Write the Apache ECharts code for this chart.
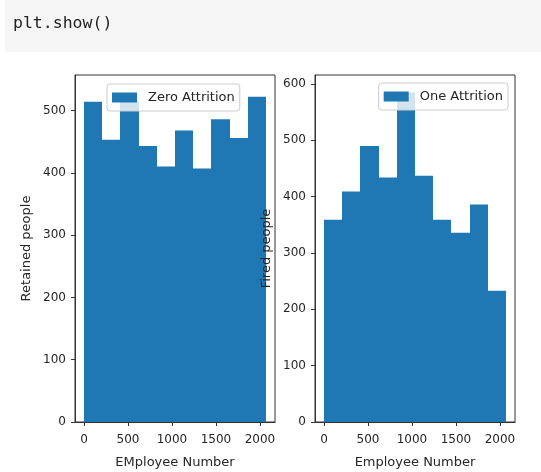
<!DOCTYPE html>
<html>
<head>
<meta charset="utf-8">
<script src="https://cdn.jsdelivr.net/npm/echarts@6/dist/echarts.min.js"></script>
<style>
html,body{margin:0;padding:0;background:#fff;}
#chart{width:541px;height:472px;}
</style>
</head>
<body>
<div id="chart"></div>
<script>
// Histogram bin edges (EmployeeNumber) and counts
const binEdges = [1, 207.7, 414.4, 621.1, 827.8, 1034.5, 1241.2, 1447.9, 1654.6, 1861.3, 2068];
const zeroCounts = [514, 453, 515, 443, 410, 468, 407, 486, 456, 522];
const oneCounts = [359, 409, 490, 434, 585, 437, 359, 336, 386, 233];
const xTicks = [0, 500, 1000, 1500, 2000];
const leftYTicks = [0, 100, 200, 300, 400, 500];
const rightYTicks = [0, 100, 200, 300, 400, 500, 600];
const seriesNames = ['Zero Attrition', 'One Attrition'];
const xTitles = ['EMployee Number', 'Employee Number'];
const yTitles = ['Retained people', 'Fired people'];

const BLUE = '#1f77b4';
const INK = '#262626';
const FONT = 'DejaVu Sans';

function histData(counts) {
  return counts.map((c, i) => [binEdges[i], binEdges[i + 1], c]);
}
function renderBar(params, api) {
  const p0 = api.coord([api.value(0), api.value(2)]);
  const p1 = api.coord([api.value(1), 0]);
  const x0 = Math.round(p0[0]), x1 = Math.round(p1[0]);
  return {
    type: 'rect',
    shape: { x: x0, y: p0[1], width: x1 - x0, height: p1[1] - p0[1] },
    style: { fill: BLUE }
  };
}

const xSpan = binEdges[binEdges.length - 1] - binEdges[0];
const xMin = binEdges[0] - 0.05 * xSpan;
const xMax = binEdges[binEdges.length - 1] + 0.05 * xSpan;
const plain = v => String(Math.round(v));

function xAxis(idx) {
  return {
    type: 'value', gridIndex: idx, min: xMin, max: xMax, z: 5,
    name: xTitles[idx], nameLocation: 'middle', nameGap: 34,
    nameTextStyle: { color: INK, fontFamily: FONT, fontSize: 13 },
    axisLine: { show: true, onZero: false, lineStyle: { color: '#333', width: 1 } },
    axisTick: { show: true, customValues: xTicks, length: 4, lineStyle: { color: '#333' } },
    axisLabel: { customValues: xTicks, formatter: plain, margin: 12, color: INK, fontFamily: FONT, fontSize: 12 },
    splitLine: { show: false }
  };
}
function yAxis(idx, max, ticks) {
  return {
    type: 'value', gridIndex: idx, min: 0, max: max, z: 5,
    name: yTitles[idx], nameLocation: 'middle', nameGap: 42,
    nameTextStyle: { color: INK, fontFamily: FONT, fontSize: 13 },
    axisLine: { show: true, onZero: false, lineStyle: { color: '#333', width: 1 } },
    axisTick: { show: true, customValues: ticks, length: 4, lineStyle: { color: '#333' } },
    axisLabel: { customValues: ticks, formatter: plain, margin: 9, color: INK, fontFamily: FONT, fontSize: 12 },
    splitLine: { show: false }
  };
}
function legend(idx, pos) {
  return Object.assign({
    data: [seriesNames[idx]],
    orient: 'horizontal',
    icon: 'rect', itemWidth: 25, itemHeight: 10,
    backgroundColor: 'rgba(255,255,255,0.8)',
    borderColor: '#cccccc', borderWidth: 1, borderRadius: 3,
    padding: [7, 5, 7, 5],
    selectedMode: false,
    textStyle: { color: INK, fontFamily: FONT, fontSize: 13, padding: [0, 0, 0, 6] }
  }, pos);
}

const chart = echarts.init(document.getElementById('chart'), null, { renderer: 'canvas' });
chart.setOption({
  animation: false,
  backgroundColor: '#fff',
  graphic: [
    { type: 'rect', left: 5, top: 0, shape: { width: 536, height: 52 }, style: { fill: '#f5f5f5' }, z: 0 },
    { type: 'text', left: 13, top: 15, style: { text: 'plt.show()', fill: '#222', font: '16.5px "DejaVu Sans Mono"' }, z: 1 }
  ],
  grid: [
    { left: 75, right: 266, top: 75, bottom: 50, show: true, borderColor: '#333', borderWidth: 1, containLabel: false, outerBoundsMode: 'none' },
    { left: 315, right: 26, top: 75, bottom: 50, show: true, borderColor: '#333', borderWidth: 1, containLabel: false, outerBoundsMode: 'none' }
  ],
  legend: [
    legend(0, { left: 107, top: 84 }),
    legend(1, { right: 33, top: 83 })
  ],
  xAxis: [xAxis(0), xAxis(1)],
  yAxis: [yAxis(0, 557, leftYTicks), yAxis(1, 616, rightYTicks)],
  series: [
    { name: seriesNames[0], type: 'custom', xAxisIndex: 0, yAxisIndex: 0, itemStyle: { color: BLUE },
      renderItem: renderBar, encode: { x: [0, 1], y: 2 }, data: histData(zeroCounts), z: 2 },
    { name: seriesNames[1], type: 'custom', xAxisIndex: 1, yAxisIndex: 1, itemStyle: { color: BLUE },
      renderItem: renderBar, encode: { x: [0, 1], y: 2 }, data: histData(oneCounts), z: 2 }
  ]
});
</script>
</body>
</html>
